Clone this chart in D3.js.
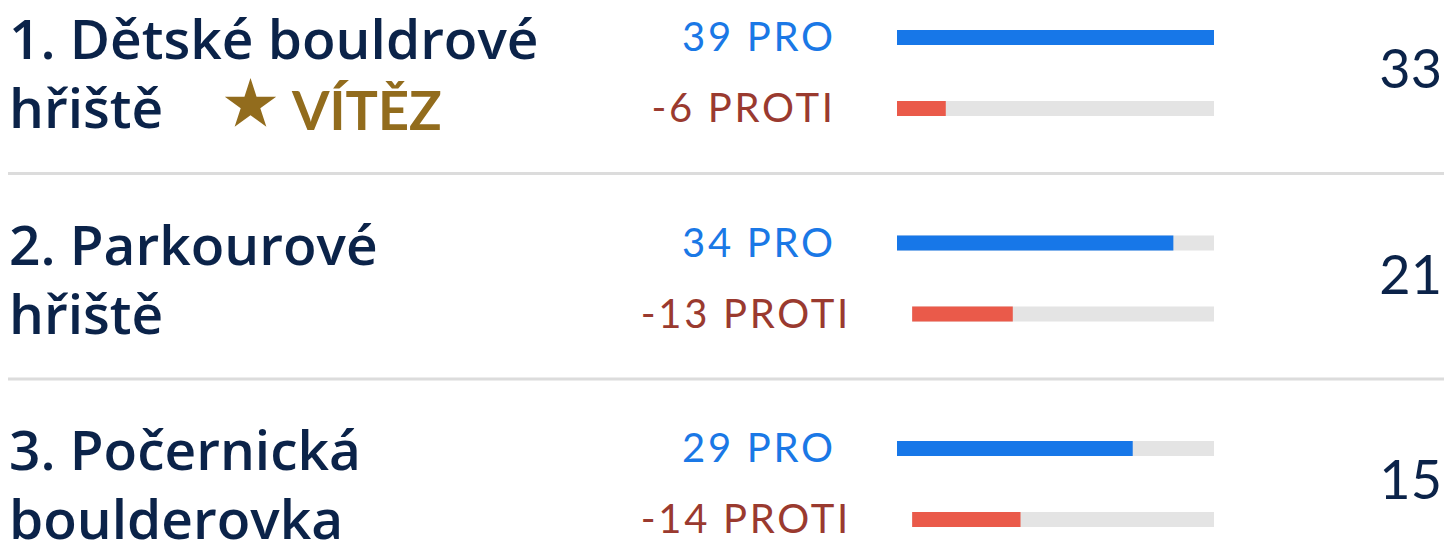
<!DOCTYPE html>
<html>
<head>
<meta charset="utf-8">
<script src="https://cdn.jsdelivr.net/npm/d3@7"></script>
<style>
  body { margin: 0; background: #fff; }
  svg { display: block; }
  .title { font-family: "Open Sans", sans-serif; font-weight: 600; fill: #0b2349; }
  .label { font-family: Lato, sans-serif; font-weight: 400; letter-spacing: 2.7px; }
  .score { font-family: Lato, sans-serif; font-weight: 400; fill: #0b2349; }
</style>
</head>
<body>
<svg id="chart"></svg>
<script>
// data
const titles = [
  ['1. Dětské bouldrové', 'hřiště'],
  ['2. Parkourové', 'hřiště'],
  ['3. Počernická', 'boulderovka']
];
const proVotes = [39, 34, 29];
const protiVotes = [6, 13, 14];
const scores = [33, 21, 15];
const winnerText = 'VÍTĚZ';

const config = {
  width: 1446,
  height: 544,
  rowHeight: 205.5,
  trackEnd: 1214,
  labelLeft: 638,
  labelMinRight: 833,
  labelGap: 64,
  barHeight: 15,
  colors: {
    pro: '#1777e8', proText: '#1a78e6',
    proti: '#ea5a4a', protiText: '#9a3a2f',
    track: '#e4e4e4', rule: '#dcdcdc', gold: '#926c1d'
  }
};

const svg = d3.select('#chart')
    .attr('width', config.width)
    .attr('height', config.height);

const rows = titles.map((t, i) => ({
  title: t, pro: proVotes[i], proti: protiVotes[i], score: scores[i], index: i
}));

const maxVotes = d3.max(rows, d => d.pro);

const yRow = d3.scaleLinear().domain([0, 1]).range([0, config.rowHeight]);

rows.forEach(row => {
  const g = svg.append('g')
      .attr('transform', `translate(0,${yRow(row.index)})`);

  // separator above (not for first row)
  if (row.index > 0) {
    g.append('rect')
        .attr('x', 8)
        .attr('y', -33.5)
        .attr('width', 1436)
        .attr('height', 3)
        .attr('fill', config.colors.rule);
  }

  // title lines
  g.selectAll('text.title')
      .data(row.title)
      .join('text')
      .attr('class', 'title')
      .attr('x', 9)
      .attr('y', (d, i) => 59 + i * 69)
      .style('font-size', '55px')
      .text(d => d);

  // winner badge
  if (row.index === 0) {
    g.append('path')
        .attr('d', d3.symbol(d3.symbolStar, 818)())
        .attr('transform', 'translate(250.5,105)')
        .attr('fill', config.colors.gold);
    g.append('text')
        .attr('x', 292)
        .attr('y', 130)
        .style('font-family', 'Lato, sans-serif')
        .style('font-weight', 700)
        .style('font-size', '54px')
        .attr('fill', config.colors.gold)
        .text(winnerText);
  }

  const lines = [
    {value: row.pro, text: `${row.pro} PRO`, y: 37.5, bar: config.colors.pro, color: config.colors.proText},
    {value: row.proti, text: `-${row.proti} PROTI`, y: 108.5, bar: config.colors.proti, color: config.colors.protiText}
  ];

  lines.forEach(line => {
    const label = g.append('text')
        .attr('class', 'label')
        .attr('y', line.y + 13.5)
        .style('font-size', '40px')
        .attr('fill', line.color)
        .attr('text-anchor', 'end')
        .text(line.text);
    const w = label.node().getComputedTextLength();
    const labelRight = Math.max(config.labelMinRight, config.labelLeft + w);
    // letter-spacing leaves a trailing gap after the last glyph
    label.attr('x', labelRight + 2.7);

    const x = d3.scaleLinear()
        .domain([0, maxVotes])
        .range([labelRight + config.labelGap, config.trackEnd]);

    g.append('rect')
        .attr('x', x(0))
        .attr('y', line.y - config.barHeight / 2)
        .attr('width', x(maxVotes) - x(0))
        .attr('height', config.barHeight)
        .attr('fill', config.colors.track);
    g.append('rect')
        .attr('x', x(0))
        .attr('y', line.y - config.barHeight / 2)
        .attr('width', x(line.value) - x(0))
        .attr('height', config.barHeight)
        .attr('fill', line.bar);
  });

  // net score
  g.append('text')
      .attr('class', 'score')
      .attr('x', 1442)
      .attr('y', 88)
      .attr('text-anchor', 'end')
      .style('font-size', '54px')
      .text(row.score);
});
</script>
</body>
</html>
